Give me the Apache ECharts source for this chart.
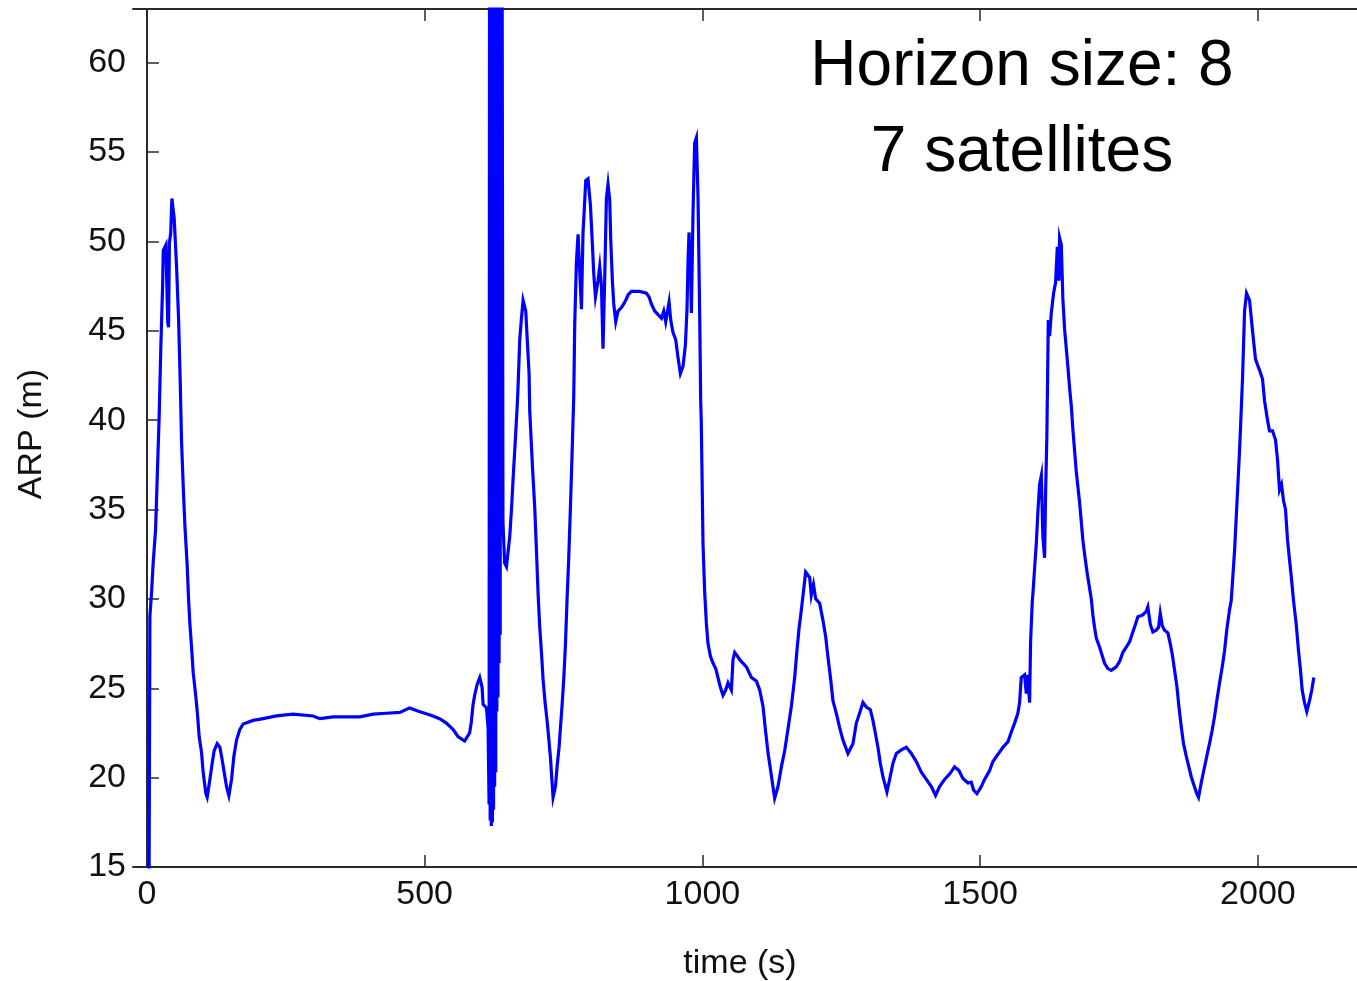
<!DOCTYPE html>
<html>
<head>
<meta charset="utf-8">
<script src="https://cdn.jsdelivr.net/npm/echarts@6/dist/echarts.min.js"></script>
<style>
html,body{margin:0;padding:0;background:#fff;}
#chart{width:1357px;height:981px;}
</style>
</head>
<body>
<div id="chart"></div>
<script>
// ---- data ----
const timeS = [3.5,5.4,8.5,11.3,15.7,18.5,22.1,25.2,28.3,29.5,31.1,34.2,36,37.5,39,40.5,43,45,47,49.1,53.4,57,59.9,62.4,65.3,68.4,72.5,75,77.4,80.4,83.3,88.2,91.2,94.1,98.4,101.3,106.2,108.5,113.4,117.5,121.1,126.5,131.4,135.5,139.1,143.4,147.6,152.4,156.6,161.4,167.4,173.3,191.3,209.3,233.4,263.3,299.3,311.3,335.3,383.3,407.2,431.4,455.3,473,490,510,527,539,551,560,572,581,584,587,590,594.4,599.2,603.4,605.2,611.3,614.2,
616,617,618,619,620,621,622,623,624,625,626,627,628,629,630,631,632,633,634,635,636,637,638,639,
641,644,647.3,653.2,656.3,659.2,664,667.1,668.2,671.2,674.3,677.2,682,684.4,688,689.2,694.1,698.2,701.3,704.2,707.2,710.3,713.2,716.8,720.4,723.4,726.5,728.8,731.2,735.5,738.4,742,744.5,747.3,750.4,753.4,756.3,759.4,762.4,765.3,768.4,770.2,773.3,776.2,779.2,782.3,785.1,786.9,790,794.1,798.5,802,804.4,807.5,809.3,812.1,815.2,818.3,821.1,824.2,827.2,830.1,833.2,835,838.1,840.4,844,848.1,854.2,858.4,862,866.1,872.2,887.2,899.2,903.9,908.2,914.2,920.1,926.3,930.4,934,940,943,947.1,952,956.1,960.4,965.1,969.4,972.3,974.1,975.9,978.4,980.2,983.1,986.1,989.2,992.1,995.1,996.9,998,1001.1,1004.1,1007.2,1010.1,1014.4,1019.1,1024,1028.1,1032.4,1037.1,1041.9,1046.1,1052.2,1055.1,1058.1,1064.1,1067.1,1079.2,1088.2,1097.2,1103.1,1109.1,1113.4,1118.1,1124.2,1130.1,1136.1,1142.2,1148.1,1154,1160.2,1166.1,1170.2,1173.8,1178.2,1185.9,1193.1,1196,1200,1204,1211.1,1217,1221.9,1226,1230.9,1235,1241.1,1247.1,1253,1262,1271,1277.1,1283,1289,1295.1,1302.3,1307,1311.3,1316,1320.3,1325,1332.2,1337.1,1343,1349.1,1358.1,1367.1,1376.1,1385.1,1394.1,1403.1,1412.1,1419.8,1427,1436,1445,1454,1461.8,1469,1478,1484.1,1488.2,1494.2,1502.1,1508,1517,1523,1532,1541,1550,1556.1,1562,1567.9,1571,1574,1580,1583.1,1586,1589,1590.8,1593.9,1595,1598,1601.1,1604,1607,1610.2,1612.9,1616,1617.8,1620.1,1622.7,1625,1628.1,1632.2,1635.8,1638.9,1641.7,1643,1646.1,1648.9,1652,1655.1,1657.9,1661,1664.1,1666.9,1670,1673.1,1675.9,1679,1682.1,1684.9,1688,1691.1,1693.9,1697,1700.1,1702.9,1706,1709.1,1715,1718,1724,1729.9,1736,1745,1751,1756.9,1763,1769,1774.9,1779.8,1783.9,1792.9,1799,1801.9,1806.2,1810.9,1817,1821.1,1824.2,1827.8,1832,1837.9,1842.2,1845.8,1850.1,1854.2,1857.7,1862,1866.1,1871,1875.7,1880,1884.6,1890,1893.1,1897.9,1902.6,1908,1912.9,1917.7,1921.9,1926,1931,1935.8,1940,1944.1,1949,1952,1958,1967,1972.3,1976,1979.5,1985,1990.3,1995.7,2002.9,2008.3,2011.9,2017.3,2020.9,2026.3,2031.7,2035.3,2038.9,2042.5,2046.1,2049.7,2053.3,2056.9,2060.5,2064.1,2068.9,2073.1,2076.7,2079.7,2083.9,2088,2092.9,2097,2100.6];
const arpM = [10,29.0,30.4,32.0,33.9,36.7,40.2,44.2,47.5,49.5,49.6,49.8,49.7,45.5,45.2,49.9,50.5,52.4,52.3,51.3,48.6,45.7,42.3,38.8,36.4,34.1,31.9,30.0,28.6,27.3,25.9,24.5,23.5,22.3,21.4,20.3,19.1,18.9,19.9,20.8,21.5,21.9,21.7,21.0,20.3,19.5,19.0,19.9,21.2,22.1,22.7,23.0,23.2,23.3,23.45,23.55,23.45,23.3,23.4,23.4,23.55,23.6,23.65,23.9,23.7,23.5,23.3,23.05,22.7,22.3,22.05,22.5,23.1,24.05,24.6,25.2,25.6,25.05,24.1,23.9,22.8,
18.5,75,17.6,75,17.3,75,17.5,75,18.2,75,19.5,75,20.3,75,23.7,75,24.5,75,26.4,75,28.0,75,36.8,75,
34.3,32.0,31.8,33.5,35.0,36.7,39.3,41.1,41.9,44.5,45.7,46.7,46.1,44.7,42.6,40.5,37.4,35.1,32.7,30.3,28.4,27.0,25.5,24.2,23.2,22.2,21.1,20.0,18.9,19.5,20.6,21.7,22.8,24.0,25.5,27.4,29.9,32.3,35.1,38.0,41.3,45.4,48.9,50.4,50.5,46.2,50.5,51.5,53.4,53.5,52.0,49.8,48.2,46.9,46.9,47.8,48.6,47.5,44.0,48.0,52.4,53.2,52.3,50.1,47.7,46.5,45.5,46.1,46.3,46.5,46.7,47.0,47.2,47.2,47.1,46.9,46.5,46.1,45.9,45.7,46.1,45.5,46.6,45.6,44.9,44.5,43.5,42.6,43.0,44.2,46.2,48.8,50.5,48.8,46.0,51.6,55.5,55.8,52.5,46.0,41.1,39.9,33.1,30.4,28.6,27.5,26.8,26.4,26.1,25.6,25.05,24.6,24.9,25.3,24.9,26.6,27.0,26.75,26.6,26.2,25.6,25.4,24.9,24.0,22.7,21.4,20.1,18.85,19.5,20.6,21.5,22.7,24.0,25.6,27.1,28.3,29.4,31.5,31.2,30.2,30.8,30.0,29.75,28.8,27.9,26.75,25.5,24.3,23.6,22.8,22.1,21.35,21.9,23.05,23.6,24.2,23.95,23.8,23.2,22.5,21.7,20.8,20.05,19.2,19.9,20.8,21.35,21.55,21.7,21.35,20.9,20.3,19.9,19.5,19.0,19.5,19.9,20.2,20.6,20.4,19.95,19.7,19.75,19.3,19.1,19.5,19.9,20.4,20.9,21.3,21.7,22.0,22.55,23.05,23.6,24.2,25.6,25.75,24.7,25.75,24.2,27.6,29.9,30.3,31.7,33.1,34.9,36.4,36.9,33.5,32.3,35.9,39.1,45.6,44.7,46.0,47.1,47.7,49.7,47.8,50.2,49.8,46.8,45.1,44.0,43.0,41.8,40.8,39.5,38.3,37.1,36.3,35.4,34.3,33.3,32.5,31.8,31.2,30.6,30.0,29.1,28.4,27.8,27.3,27.0,26.4,26.1,26.0,26.2,26.5,27.0,27.3,27.6,28.15,28.6,29.0,29.1,29.3,29.55,28.6,28.15,28.25,28.4,29.2,28.5,28.25,28.1,27.5,26.9,26.0,25.1,24.0,22.85,21.9,21.2,20.6,20.05,19.6,19.1,18.9,19.7,20.4,21.2,21.9,22.65,23.4,24.3,25.3,26.2,27.1,28.3,29.4,29.9,32.7,38.3,42.3,46.1,47.1,46.7,45.0,43.4,42.8,42.3,41.1,40.0,39.4,39.4,38.9,37.8,36.1,36.4,35.5,35.0,33.3,32.2,31.1,29.9,28.6,27.1,26.0,24.9,24.2,23.7,24.3,24.9,25.6];
const xTickValues = [0, 500, 1000, 1500, 2000];
const yTickValues = [15, 20, 25, 30, 35, 40, 45, 50, 55, 60];
const annotationLines = ['Horizon size: 8', '7 satellites'];
const xName = 'time (s)';
const yName = 'ARP (m)';

const seriesData = timeS.map((t, i) => [t, arpM[i]]);

const FONT = '"Liberation Sans", Arial, sans-serif';
const axisLineStyle = { color: '#2a2a2a', width: 2 };
const tickStyle = { color: '#2a2a2a', width: 1.5 };

const chart = echarts.init(document.getElementById('chart'), null, { renderer: 'canvas' });
chart.setOption({
  animation: false,
  backgroundColor: '#ffffff',
  grid: { left: 133, top: 9, width: 1236, height: 858, containLabel: false, outerBoundsMode: 'none' },
  xAxis: [
    {
      type: 'value', min: -25, max: 2200, position: 'bottom',
      name: xName, nameLocation: 'middle', nameGap: 80,
      nameTextStyle: { fontFamily: FONT, fontSize: 34, color: '#111', padding: [0, 22, 0, 0] },
      axisLine: { show: true, lineStyle: axisLineStyle },
      axisTick: { show: true, inside: true, length: 12, lineStyle: tickStyle, customValues: xTickValues },
      axisLabel: { show: true, margin: 11, fontFamily: FONT, fontSize: 34, color: '#111', customValues: xTickValues,
                   formatter: v => String(v) },
      splitLine: { show: false }
    },
    {
      type: 'value', min: -25, max: 2200, position: 'top',
      axisLine: { show: true, lineStyle: axisLineStyle },
      axisTick: { show: true, inside: true, length: 12, lineStyle: tickStyle, customValues: xTickValues },
      axisLabel: { show: false },
      splitLine: { show: false }
    }
  ],
  yAxis: {
    type: 'value', min: 15, max: 63,
    name: yName, nameLocation: 'middle', nameGap: 84, nameRotate: 90,
    nameTextStyle: { fontFamily: FONT, fontSize: 34, color: '#111', padding: [0, 0, 0, 8] },
    axisLine: { show: true, lineStyle: axisLineStyle },
    axisTick: { show: true, inside: true, length: 12, lineStyle: tickStyle, customValues: yTickValues },
    axisLabel: { show: true, margin: 7, fontFamily: FONT, fontSize: 34, color: '#111', customValues: yTickValues,
                 padding: [4, 0, 0, 0], formatter: v => String(v) },
    splitLine: { show: false }
  },
  series: [{
    type: 'line',
    xAxisIndex: 0,
    data: seriesData,
    showSymbol: false,
    symbol: 'none',
    clip: true,
    sampling: null,
    lineStyle: { color: '#0000ff', width: 3.2, join: 'miter' }
  }],
  graphic: annotationLines.map((txt, i) => ({
    type: 'text',
    x: 1022,
    y: 67 + i * 86,
    style: {
      text: txt,
      font: '64px ' + FONT,
      fill: '#000',
      textAlign: 'center',
      textVerticalAlign: 'middle'
    }
  }))
});
</script>
</body>
</html>
